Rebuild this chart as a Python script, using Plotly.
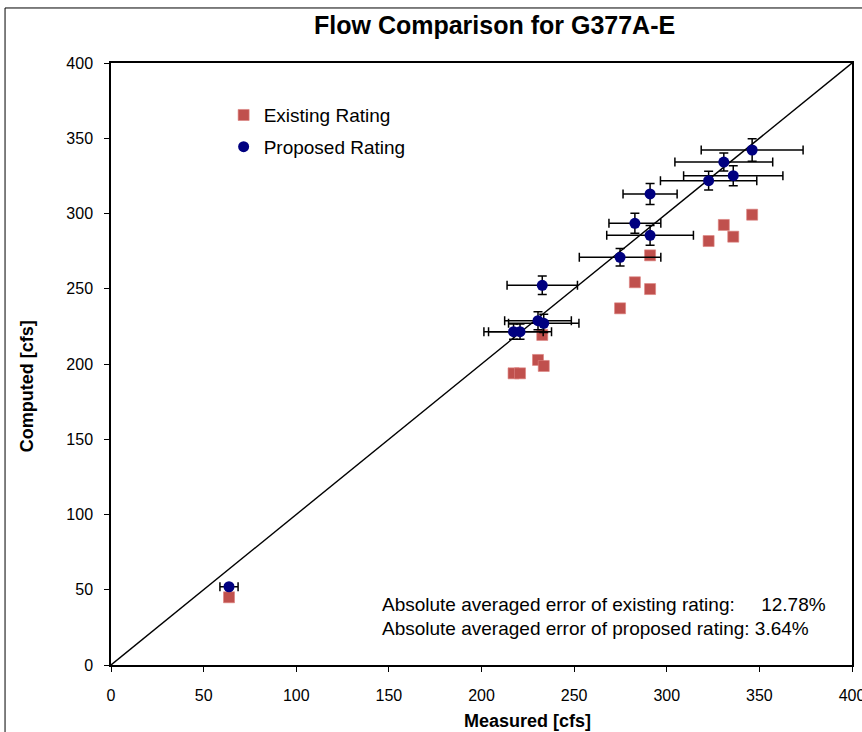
import plotly.graph_objects as go

# Measured flows [cfs]
measured = [63.7, 217.3, 220.8, 230.5, 233.6, 232.8, 274.8, 282.8, 291.0, 291.0, 322.6, 330.8, 335.9, 346.1]
# Computed with existing rating
existing = [45.0, 193.8, 193.8, 202.7, 198.7, 219.3, 237.0, 254.3, 272.2, 249.8, 281.7, 292.4, 284.6, 299.2]
# Computed with proposed rating
proposed = [52.0, 221.5, 221.5, 228.8, 227.0, 252.3, 270.9, 293.5, 313.0, 285.5, 321.8, 334.2, 325.1, 342.2]
# Error bar half-widths for the proposed rating
proposed_xerr = [4.9, 16.0, 17.0, 18.0, 19.0, 19.0, 22.0, 14.0, 14.6, 23.4, 26.0, 26.4, 26.8, 27.5]
proposed_yerr = [1.2, 5.0, 5.0, 6.0, 6.0, 6.2, 5.8, 6.6, 7.0, 6.6, 6.2, 6.0, 6.6, 7.4]

line_xy = [0, 400]
ticks = [0, 50, 100, 150, 200, 250, 300, 350, 400]

FONT = "Liberation Sans, Arial, sans-serif"

fig = go.Figure()

fig.add_trace(go.Scatter(
    x=line_xy, y=line_xy, mode="lines",
    line=dict(color="black", width=1.4),
    showlegend=False, hoverinfo="skip"))

fig.add_trace(go.Scatter(
    x=measured, y=existing, mode="markers", name="Existing Rating",
    legendgroup="a",
    marker=dict(symbol="square", size=11, color="#C0504D",
                line=dict(color="rgba(220,130,128,0.8)", width=0.8))))

fig.add_trace(go.Scatter(
    x=measured, y=proposed, mode="markers", name="Proposed Rating",
    legendgroup="b",
    marker=dict(symbol="circle", size=11, color="#000080",
                line=dict(color="#000080", width=0)),
    error_x=dict(type="data", array=proposed_xerr, color="black", thickness=1.5, width=4.5),
    error_y=dict(type="data", array=proposed_yerr, color="black", thickness=1.5, width=4.5)))

axis_common = dict(
    showgrid=False, zeroline=False,
    showline=True, linecolor="black", linewidth=1.5, mirror=True,
    ticks="outside", ticklen=5, tickwidth=1, tickcolor="black",
    tickfont=dict(family=FONT, size=16, color="black"),
    tickvals=ticks, ticktext=[str(t) for t in ticks],
    range=[0, 400],
    ticklabeloverflow="allow",
    automargin=False,
)

fig.update_xaxes(**axis_common, ticklabelstandoff=10)
fig.update_yaxes(**axis_common, ticklabelstandoff=8)

fig.update_layout(
    width=862, height=732,
    margin=dict(l=111, r=10, t=63, b=67, pad=0, autoexpand=False),
    paper_bgcolor="white", plot_bgcolor="white",
    showlegend=True,
    legend=dict(x=0.152, y=0.945, xanchor="left", yanchor="top",
                bgcolor="rgba(0,0,0,0)", traceorder="grouped", tracegroupgap=4,
                font=dict(family=FONT, size=19, color="black"),
                itemwidth=30),
    shapes=[dict(type="rect", xref="paper", yref="paper",
                 x0=-0.143, y0=-0.3, x1=1.2, y1=1.0914,
                 line=dict(color="black", width=1), layer="below")],
    annotations=[
        dict(text="<b>Flow Comparison for G377A-E</b>", xref="paper", yref="paper",
             x=0.518, y=1.0, yshift=38, showarrow=False, xanchor="center", yanchor="middle",
             font=dict(family=FONT, size=25, color="black")),
        dict(text="<b>Measured [cfs]</b>", xref="paper", yref="paper",
             x=0.562, y=0, yshift=-56, showarrow=False, xanchor="center", yanchor="middle",
             font=dict(family=FONT, size=18, color="black")),
        dict(text="<b>Computed [cfs]</b>", xref="paper", yref="paper",
             x=0, xshift=-84, y=0.463, showarrow=False, textangle=-90,
             xanchor="center", yanchor="middle",
             font=dict(family=FONT, size=18, color="black")),
        dict(text="Absolute averaged error of existing rating:\u00a0\u00a0\u00a0\u00a0\u00a012.78%",
             xref="paper", yref="paper", x=(380 - 111) / 741, y=(665 - 604) / 602,
             showarrow=False, xanchor="left", yanchor="middle",
             font=dict(family=FONT, size=19, color="black")),
        dict(text="Absolute averaged error of proposed rating: 3.64%",
             xref="paper", yref="paper", x=(380 - 111) / 741, y=(665 - 628) / 602,
             showarrow=False, xanchor="left", yanchor="middle",
             font=dict(family=FONT, size=19, color="black")),
    ],
)

fig.write_html(
    "out.html",
    config={"displayModeBar": False},
    post_script="document.body.style.margin='0px';document.body.style.overflow='hidden';",
)
